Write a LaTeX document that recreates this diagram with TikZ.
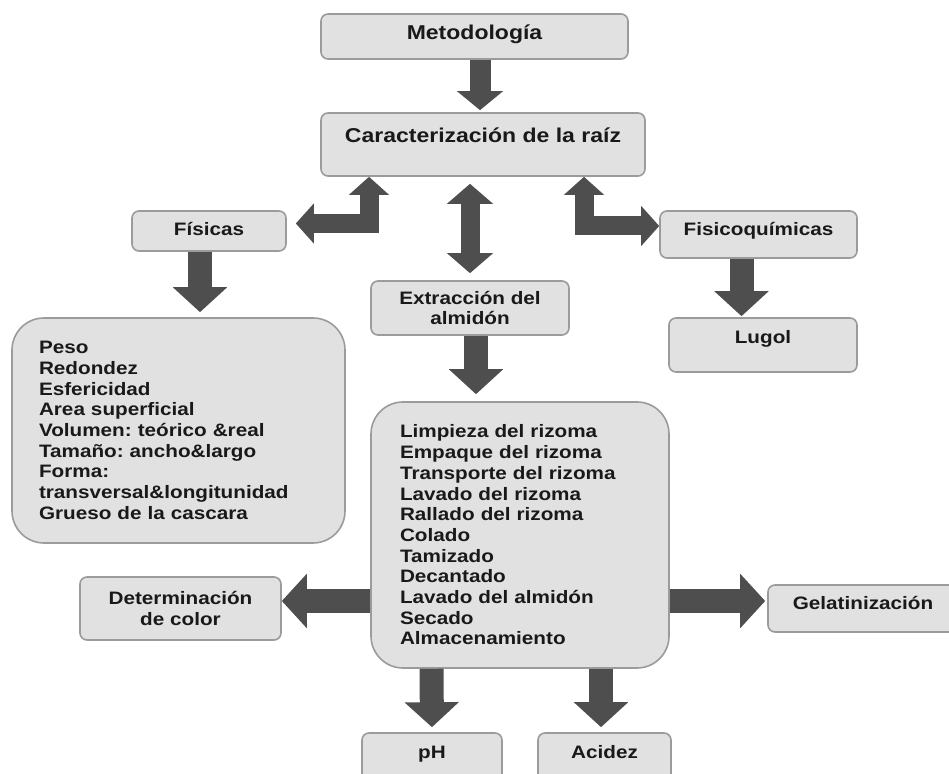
\documentclass[tikz,border=0pt]{standalone}
\usepackage{fontspec}
\setmainfont[FakeStretch=1.15]{Liberation Sans}
\usetikzlibrary{arrows.meta}
\definecolor{boxfill}{RGB}{225,225,225}
\definecolor{boxline}{RGB}{155,155,155}
\definecolor{arrowfill}{RGB}{78,78,78}
\frenchspacing
\begin{document}
\begin{tikzpicture}[x=1pt,y=1pt,
        box/.style={draw=boxline, fill=boxfill, line width=1.6pt, rounded corners=7pt,
            inner sep=0pt, align=center, text=black!90,
            font=\bfseries\fontsize{18}{20.7}\selectfont},
        listbox/.style={box, rounded corners=32pt, align=left},
        bigarrow/.style={draw=arrowfill, line width=24pt, -{Triangle[width=53pt,length=25pt]}},
        midarrow/.style={draw=arrowfill, line width=21pt, -{Triangle[width=45pt,length=19pt]}},
        dblarrow/.style={draw=arrowfill, line width=19pt,
            {Triangle[width=45pt,length=20pt]}-{Triangle[width=45pt,length=20pt]}},
        elbowarrow/.style={draw=arrowfill, line width=19pt,
            {Triangle[width=39pt,length=18pt]}-{Triangle[width=39pt,length=18pt]}}]
    \useasboundingbox (0,0) rectangle (949,773);
    % top of the chart
    \node[box, minimum width=307pt, text height=26pt, text depth=19pt,
        font=\bfseries\fontsize{20}{22}\selectfont] (meto) at (474.5,736.5) {Metodología};
    \node[box, minimum width=324pt, text height=30pt, text depth=33pt,
        font=\bfseries\fontsize{20}{22}\selectfont] (carac) at (483,628.5) {Caracterización de la raíz};
    \node[box, minimum width=154pt, text height=24.5pt, text depth=15.5pt] (fisicas) at (209,542) {Físicas};
    \node[box, minimum width=197pt, text height=24.5pt, text depth=22.5pt] (fisq) at (758.5,538.5) {Fisicoquímicas};
    \node[box, minimum width=198pt, minimum height=54pt] (extr) at (470,465) {Extracción del\\almidón};
    \node[box, minimum width=188pt, text height=25.5pt, text depth=28.5pt] (lugol) at (763,428) {Lugol};
    % lists
    \node[listbox, minimum width=333pt, minimum height=225pt, text width=279pt] (props) at (178.5,342.5)
        {Peso\\Redondez\\Esfericidad\\Area superficial\\Volumen: teórico \&real\\Tamaño: ancho\&largo\\Forma:\\transversal\&longitunidad\\Grueso de la cascara};
    \node[listbox, minimum width=298pt, minimum height=266pt, text width=240pt] (steps) at (520,238)
        {Limpieza del rizoma\\Empaque del rizoma\\Transporte del rizoma\\Lavado del rizoma\\Rallado del rizoma\\Colado\\Tamizado\\Decantado\\Lavado del almidón\\Secado\\Almacenamiento};
    % bottom of the chart
    \node[box, minimum width=201pt, minimum height=63pt] (color) at (180.5,164.5) {Determinación\\de color};
    \node[box, minimum width=190pt, text height=24.5pt, text depth=22.5pt] (gel) at (863,164.5) {Gelatinización};
    \node[box, minimum width=140pt, text height=25.5pt, text depth=31.5pt] (ph) at (432,11.5) {pH};
    \node[box, minimum width=133pt, text height=25.5pt, text depth=31.5pt] (acidez) at (604.5,11.5) {Acidez};
    % arrows
    \draw[midarrow, shorten >=2pt] ([xshift=5.5pt]meto.south) -- ([xshift=5.5pt]meto.south |- carac.north);
    \draw[elbowarrow] ([xshift=-114pt]carac.south) |- ([shift={(9pt,7.5pt)}]fisicas.east);
    \draw[elbowarrow] ([xshift=101pt]carac.south) |- ([yshift=8.5pt]fisq.west);
    \draw[dblarrow, shorten <=7pt, shorten >=7pt] (extr.north |- carac.south) -- (extr.north);
    \draw[bigarrow, shorten >=5pt] ([xshift=-9pt]fisicas.south) -- ([xshift=-9pt]fisicas.south |- props.north);
    \draw[bigarrow, shorten >=1pt] ([xshift=-17pt]fisq.south) -- ([xshift=-17pt]fisq.south |- lugol.north);
    \draw[bigarrow, shorten >=7pt] ([xshift=6pt]extr.south) -- ([xshift=6pt]extr.south |- steps.north);
    \draw[bigarrow] ([yshift=-66pt]steps.west) -- ([yshift=7.5pt]color.east);
    \draw[bigarrow, shorten >=2pt] ([yshift=-66pt]steps.east) -- ([yshift=7.5pt]gel.west);
    \draw[bigarrow, shorten >=5pt] ([xshift=-88.5pt]steps.south) -- (ph.north);
    \draw[bigarrow, shorten >=5pt] ([xshift=81pt]steps.south) -- ([xshift=81pt]steps.south |- acidez.north);
\end{tikzpicture}
\end{document}
